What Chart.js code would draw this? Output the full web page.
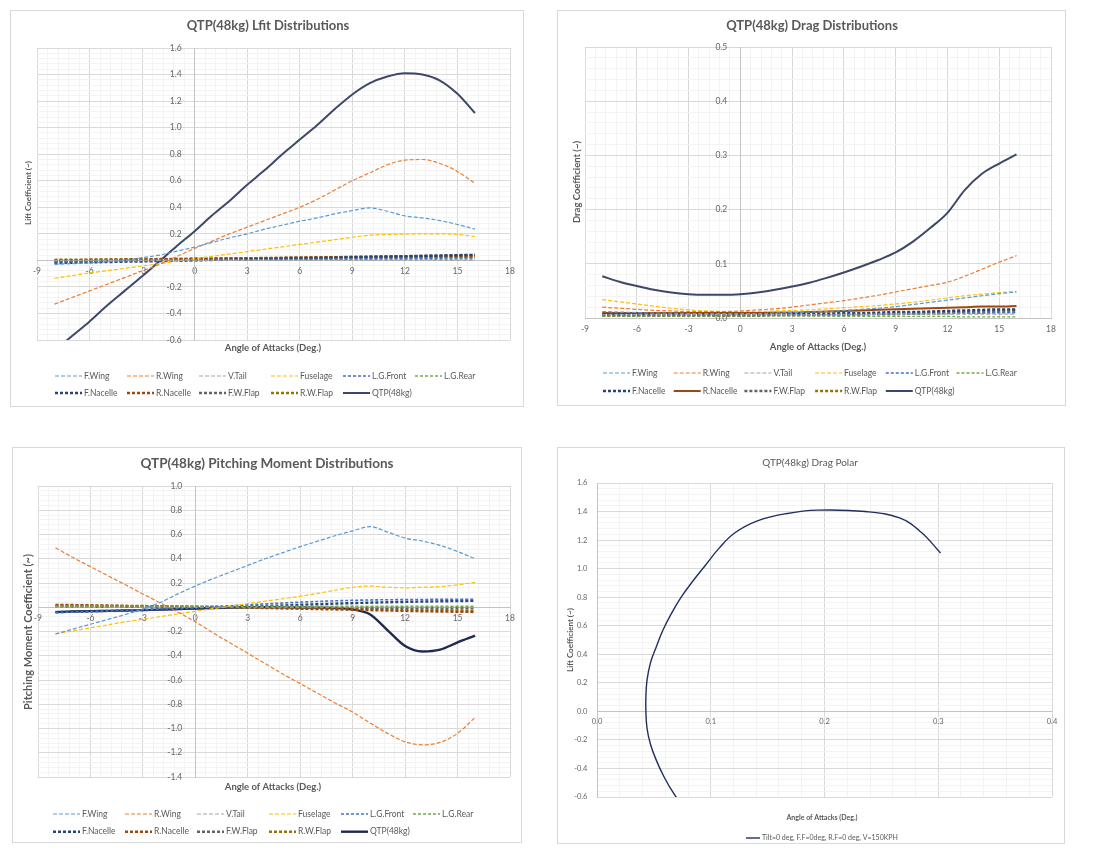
<!DOCTYPE html>
<html>
<head>
<meta charset="utf-8">
<script src="https://cdn.jsdelivr.net/npm/chart.js@4.4.1/dist/chart.umd.min.js"></script>
<style>
  body { margin: 0; background: #fff; width: 1101px; height: 860px; position: relative; overflow: hidden; }
  .panel { position: absolute; border: 1px solid #d9d9d9; box-sizing: border-box; background: #fff; }
  canvas { display: block; }
</style>
</head>
<body>
<div class="panel" style="left:10px;top:10px;width:514px;height:397px"><canvas id="liftChart" width="512" height="395"></canvas></div>
<div class="panel" style="left:557px;top:10px;width:509px;height:396px"><canvas id="dragChart" width="507" height="394"></canvas></div>
<div class="panel" style="left:12px;top:447px;width:510px;height:396px"><canvas id="pitchChart" width="508" height="394"></canvas></div>
<div class="panel" style="left:557px;top:447px;width:508px;height:397px"><canvas id="polarChart" width="506" height="395"></canvas></div>
<script>
// 迎角
const angles = [-8, -7, -6, -5, -4, -3, -2, -1, 0, 1, 2, 3, 4, 5, 6, 7, 8, 9, 10, 11, 12, 13, 14, 15, 16];

const seriesNames = ['F.Wing', 'R.Wing', 'V.Tail', 'Fuselage', 'L.G.Front', 'L.G.Rear',
                     'F.Nacelle', 'R.Nacelle', 'F.W.Flap', 'R.W.Flap', 'QTP(48kg)'];

// 揚力係数
const liftFWing     = [-0.03, -0.025, -0.02, -0.01, 0.00, 0.02, 0.04, 0.07, 0.10, 0.135, 0.17, 0.20, 0.235, 0.265, 0.295, 0.32, 0.35, 0.375, 0.395, 0.37, 0.335, 0.32, 0.30, 0.27, 0.235];
const liftRWing     = [-0.33, -0.28, -0.23, -0.18, -0.13, -0.08, -0.03, 0.03, 0.09, 0.145, 0.20, 0.25, 0.30, 0.35, 0.40, 0.46, 0.53, 0.60, 0.66, 0.72, 0.755, 0.76, 0.73, 0.67, 0.58];
const liftVTail     = [0, 0, 0, 0, 0, 0, 0, 0, 0, 0, 0, 0, 0, 0, 0, 0, 0, 0, 0, 0, 0, 0, 0, 0, 0];
const liftFuselage  = [-0.135, -0.115, -0.095, -0.078, -0.06, -0.042, -0.025, -0.005, 0.012, 0.03, 0.048, 0.066, 0.084, 0.102, 0.12, 0.138, 0.156, 0.174, 0.19, 0.195, 0.198, 0.2, 0.2, 0.195, 0.18];
const liftLGFront   = [-0.010, -0.009, -0.008, -0.007, -0.006, -0.005, -0.003, -0.002, 0.000, 0.001, 0.002, 0.004, 0.005, 0.006, 0.008, 0.009, 0.010, 0.012, 0.013, 0.014, 0.015, 0.016, 0.017, 0.018, 0.019];
const liftLGRear    = [-0.002, -0.002, -0.001, -0.001, 0.000, 0.000, 0.001, 0.001, 0.002, 0.002, 0.003, 0.003, 0.004, 0.004, 0.005, 0.005, 0.006, 0.006, 0.007, 0.007, 0.008, 0.008, 0.008, 0.009, 0.009];
const liftFNacelle  = [-0.020, -0.018, -0.015, -0.013, -0.010, -0.008, -0.005, -0.003, 0.000, 0.003, 0.005, 0.008, 0.010, 0.013, 0.015, 0.018, 0.020, 0.023, 0.025, 0.028, 0.030, 0.033, 0.036, 0.039, 0.042];
const liftRNacelle  = [0.000, 0.001, 0.003, 0.004, 0.006, 0.007, 0.009, 0.010, 0.012, 0.013, 0.015, 0.016, 0.018, 0.019, 0.021, 0.022, 0.024, 0.025, 0.027, 0.028, 0.030, 0.031, 0.032, 0.033, 0.034];
const liftFWFlap    = [-0.008, -0.006, -0.004, -0.002, 0.000, 0.002, 0.004, 0.006, 0.008, 0.010, 0.012, 0.014, 0.016, 0.018, 0.020, 0.022, 0.024, 0.026, 0.028, 0.030, 0.032, 0.034, 0.036, 0.038, 0.040];
const liftRWFlap    = [0.004, 0.005, 0.006, 0.007, 0.008, 0.009, 0.010, 0.011, 0.012, 0.013, 0.014, 0.015, 0.016, 0.017, 0.018, 0.019, 0.020, 0.021, 0.022, 0.023, 0.024, 0.025, 0.026, 0.027, 0.028];
const liftQTP       = [-0.68, -0.57, -0.46, -0.34, -0.23, -0.12, -0.005, 0.11, 0.22, 0.34, 0.45, 0.57, 0.68, 0.80, 0.91, 1.02, 1.14, 1.25, 1.335, 1.385, 1.41, 1.40, 1.355, 1.255, 1.11];

// 抗力係数
const dragFWing     = [0.012, 0.011, 0.010, 0.009, 0.009, 0.008, 0.008, 0.008, 0.008, 0.008, 0.009, 0.010, 0.011, 0.012, 0.014, 0.016, 0.018, 0.021, 0.025, 0.029, 0.033, 0.037, 0.041, 0.045, 0.048];
const dragRWing     = [0.020, 0.018, 0.016, 0.014, 0.013, 0.012, 0.012, 0.012, 0.013, 0.015, 0.017, 0.020, 0.024, 0.028, 0.032, 0.037, 0.042, 0.048, 0.054, 0.060, 0.066, 0.077, 0.090, 0.103, 0.115];
const dragVTail     = [0.006, 0.006, 0.006, 0.006, 0.006, 0.006, 0.006, 0.006, 0.006, 0.006, 0.006, 0.006, 0.006, 0.006, 0.006, 0.006, 0.007, 0.007, 0.007, 0.007, 0.007, 0.007, 0.007, 0.007, 0.007];
const dragFuselage  = [0.034, 0.030, 0.026, 0.022, 0.018, 0.015, 0.013, 0.012, 0.012, 0.012, 0.013, 0.014, 0.015, 0.017, 0.019, 0.021, 0.023, 0.026, 0.029, 0.033, 0.037, 0.041, 0.044, 0.047, 0.049];
const dragLGFront   = [0.005, 0.005, 0.005, 0.005, 0.005, 0.005, 0.005, 0.005, 0.005, 0.005, 0.006, 0.006, 0.006, 0.006, 0.007, 0.007, 0.007, 0.008, 0.008, 0.008, 0.009, 0.009, 0.009, 0.010, 0.010];
const dragLGRear    = [0.004, 0.004, 0.004, 0.004, 0.004, 0.004, 0.004, 0.004, 0.004, 0.004, 0.004, 0.004, 0.004, 0.004, 0.003, 0.003, 0.003, 0.003, 0.003, 0.003, 0.003, 0.002, 0.002, 0.002, 0.002];
const dragFNacelle  = [0.007, 0.007, 0.007, 0.007, 0.007, 0.007, 0.007, 0.007, 0.007, 0.007, 0.007, 0.008, 0.008, 0.008, 0.009, 0.009, 0.010, 0.011, 0.011, 0.012, 0.013, 0.014, 0.015, 0.016, 0.016];
const dragRNacelle  = [0.009, 0.009, 0.009, 0.009, 0.009, 0.009, 0.009, 0.009, 0.009, 0.009, 0.010, 0.010, 0.011, 0.012, 0.013, 0.014, 0.015, 0.016, 0.017, 0.018, 0.019, 0.020, 0.021, 0.021, 0.022];
const dragFWFlap    = [0.005, 0.005, 0.005, 0.005, 0.005, 0.005, 0.005, 0.005, 0.005, 0.005, 0.006, 0.006, 0.006, 0.007, 0.007, 0.008, 0.008, 0.009, 0.010, 0.011, 0.012, 0.012, 0.013, 0.014, 0.015];
const dragRWFlap    = [0.004, 0.004, 0.004, 0.004, 0.004, 0.004, 0.004, 0.004, 0.004, 0.004, 0.005, 0.005, 0.005, 0.005, 0.006, 0.006, 0.007, 0.007, 0.008, 0.008, 0.009, 0.010, 0.010, 0.011, 0.012];
const dragQTP       = [0.077, 0.067, 0.059, 0.052, 0.047, 0.044, 0.043, 0.043, 0.044, 0.047, 0.052, 0.058, 0.065, 0.074, 0.084, 0.095, 0.107, 0.121, 0.141, 0.166, 0.194, 0.236, 0.266, 0.285, 0.302];

// ピッチングモーメント係数
const pitchFWing    = [-0.22, -0.18, -0.14, -0.10, -0.06, -0.015, 0.04, 0.11, 0.175, 0.235, 0.29, 0.345, 0.40, 0.45, 0.50, 0.545, 0.59, 0.63, 0.665, 0.62, 0.57, 0.545, 0.51, 0.46, 0.40];
const pitchRWing    = [0.49, 0.41, 0.335, 0.26, 0.185, 0.11, 0.035, -0.04, -0.12, -0.21, -0.295, -0.38, -0.465, -0.55, -0.63, -0.71, -0.79, -0.865, -0.955, -1.04, -1.11, -1.135, -1.115, -1.04, -0.91];
const pitchVTail    = [0, 0, 0, 0, 0, 0, 0, 0, 0, 0, 0, 0, 0, 0, 0, 0, 0, 0, 0, 0, 0, 0, 0, 0, 0];
const pitchFuselage = [-0.22, -0.195, -0.17, -0.145, -0.12, -0.10, -0.077, -0.055, -0.033, -0.012, 0.01, 0.03, 0.05, 0.07, 0.09, 0.115, 0.14, 0.165, 0.175, 0.165, 0.16, 0.165, 0.17, 0.185, 0.205];
const pitchLGFront  = [-0.045, -0.040, -0.035, -0.030, -0.025, -0.020, -0.015, -0.010, -0.004, 0.004, 0.012, 0.020, 0.028, 0.035, 0.042, 0.048, 0.053, 0.057, 0.060, 0.062, 0.063, 0.064, 0.065, 0.065, 0.065];
const pitchLGRear   = [0.010, 0.010, 0.010, 0.010, 0.009, 0.009, 0.009, 0.009, 0.008, 0.008, 0.008, 0.008, 0.008, 0.008, 0.008, 0.008, 0.008, 0.008, 0.008, 0.008, 0.008, 0.008, 0.008, 0.008, 0.008];
const pitchFNacelle = [-0.040, -0.037, -0.034, -0.030, -0.027, -0.023, -0.019, -0.015, -0.010, -0.005, 0.000, 0.005, 0.010, 0.015, 0.020, 0.025, 0.030, 0.034, 0.038, 0.041, 0.044, 0.047, 0.049, 0.051, 0.053];
const pitchRNacelle = [0.020, 0.018, 0.016, 0.014, 0.012, 0.010, 0.008, 0.006, 0.004, 0.002, 0.000, -0.003, -0.006, -0.009, -0.012, -0.015, -0.018, -0.021, -0.024, -0.027, -0.030, -0.033, -0.035, -0.037, -0.039];
const pitchFWFlap   = [0.005, 0.005, 0.004, 0.004, 0.003, 0.003, 0.002, 0.002, 0.001, 0.001, 0.000, 0.000, -0.001, -0.001, -0.002, -0.002, -0.003, -0.003, -0.004, -0.004, -0.005, -0.005, -0.006, -0.006, -0.007];
const pitchRWFlap   = [0.015, 0.014, 0.012, 0.011, 0.009, 0.008, 0.006, 0.005, 0.003, 0.002, 0.000, -0.002, -0.004, -0.006, -0.008, -0.010, -0.012, -0.014, -0.016, -0.018, -0.020, -0.022, -0.024, -0.026, -0.028];
const pitchQTP      = [-0.04, -0.035, -0.032, -0.03, -0.027, -0.024, -0.02, -0.015, -0.01, -0.006, -0.003, 0.0, 0.0, -0.001, -0.002, -0.003, -0.006, -0.018, -0.06, -0.19, -0.32, -0.365, -0.35, -0.29, -0.235];

// 目盛りラベル
const aoaLabels      = [-9, -6, -3, 0, 3, 6, 9, 12, 15, 18];
const liftYLabels    = [-0.6, -0.4, -0.2, 0.2, 0.4, 0.6, 0.8, 1.0, 1.2, 1.4, 1.6];
const dragYLabels    = [0.0, 0.1, 0.2, 0.3, 0.4, 0.5];
const pitchYLabels   = [-1.4, -1.2, -1.0, -0.8, -0.6, -0.4, -0.2, 0.2, 0.4, 0.6, 0.8, 1.0];
const polarXLabels   = [0.0, 0.1, 0.2, 0.3, 0.4];
const polarYLabels   = [-0.6, -0.4, -0.2, 0.0, 0.2, 0.4, 0.6, 0.8, 1.0, 1.2, 1.4, 1.6];

const FONT = 'Lato';

// 線のスタイル
const baseStyles = [
  { color: '#5b9bd5', width: 1.2, dash: [4, 2] },
  { color: '#ed7d31', width: 1.2, dash: [4, 2] },
  { color: '#a5a5a5', width: 1.2, dash: [4, 2] },
  { color: '#ffc000', width: 1.2, dash: [4, 2] },
  { color: '#4472c4', width: 1.6, dash: [3, 2] },
  { color: '#70ad47', width: 1.4, dash: [3, 2] },
  { color: '#264478', width: 2.4, dash: [3, 2] },
  { color: '#9e480e', width: 2.4, dash: [3, 2] },
  { color: '#636363', width: 2.4, dash: [3, 2] },
  { color: '#997300', width: 2.4, dash: [3, 2] },
  { color: '#3c4868', width: 2, dash: [] }
];

function buildSets(list, styles) {
  return list.map((vals, i) => ({
    label: seriesNames[i],
    data: angles.map((a, k) => ({ x: a, y: vals[k] })),
    borderColor: styles[i].color,
    borderWidth: styles[i].width,
    borderDash: styles[i].dash,
    pointRadius: 0,
    fill: false,
    cubicInterpolationMode: 'monotone'
  }));
}

function near(a, b) { return Math.abs(a - b) < 1e-6; }

// 軸 (y軸ラベルは軸線に接するので後ろに空白を足して離す)
function axis(min, max, step, major, labels, digits, pos, font, gap) {
  return {
    type: 'linear', min: min, max: max, position: pos,
    ticks: {
      stepSize: step, autoSkip: false, maxRotation: 0, minRotation: 0,
      padding: 6, color: '#666', font: { family: FONT, size: font },
      callback: v => {
        const t = labels.find(l => near(l, v));
        return t === undefined ? '' : t.toFixed(digits) + (gap || '');
      }
    },
    grid: {
      drawTicks: false,
      color: c => near(c.tick.value / major, Math.round(c.tick.value / major)) ? '#d9d9d9' : '#f3f3f3'
    },
    border: { color: '#c4c4c4' }
  };
}
const YGAP = '      ';

// タイトル・軸タイトル・凡例
const decor = {
  id: 'decor',
  afterDraw(chart, args, o) {
    const ctx = chart.ctx;
    ctx.save();
    ctx.fillStyle = '#595959';
    ctx.textAlign = 'center';
    ctx.textBaseline = 'middle';
    ctx.font = o.titleFont + ' ' + FONT;
    ctx.fillText(o.title, o.titleX, o.titleY);
    ctx.font = o.xFont + ' ' + FONT;
    ctx.fillText(o.xTitle, o.xTitleX, o.xTitleY);
    ctx.save();
    ctx.font = o.yFont + ' ' + FONT;
    ctx.translate(o.yTitleX, o.yTitleY);
    ctx.rotate(-Math.PI / 2);
    ctx.fillText(o.yTitle, 0, 0);
    ctx.restore();

    ctx.font = o.legFont + ' ' + FONT;
    ctx.textAlign = 'left';
    chart.data.datasets.forEach((ds, i) => {
      const col = i % o.cols, row = Math.floor(i / o.cols);
      const x = o.legX + col * o.legColW, y = o.legY + row * o.legRowH;
      ctx.beginPath();
      ctx.setLineDash(ds.borderDash || []);
      ctx.lineWidth = ds.borderWidth;
      ctx.strokeStyle = ds.borderColor;
      ctx.moveTo(x, y);
      ctx.lineTo(x + o.legLine, y);
      ctx.stroke();
      ctx.setLineDash([]);
      ctx.fillStyle = '#595959';
      ctx.fillText(ds.label, x + o.legLine + 2, y);
    });
    ctx.restore();
  }
};

function makeChart(id, datasets, scales, padding, decorOpts) {
  return new Chart(document.getElementById(id), {
    type: 'line',
    data: { datasets: datasets },
    options: {
      responsive: false,
      animation: false,
      layout: { padding: padding },
      scales: scales,
      plugins: { legend: { display: false }, tooltip: { enabled: false }, decor: decorOpts }
    },
    plugins: [decor]
  });
}

// 揚力
makeChart('liftChart',
  buildSets([liftFWing, liftRWing, liftVTail, liftFuselage, liftLGFront, liftLGRear,
             liftFNacelle, liftRNacelle, liftFWFlap, liftRWFlap, liftQTP], baseStyles),
  {
    x: axis(-9, 18, 0.6, 3, aoaLabels, 0, { y: 0 }, 8.5),
    y: axis(-0.6, 1.6, 0.04, 0.2, liftYLabels, 1, { x: 0 }, 8.5, YGAP)
  },
  { left: 26, right: 13, top: 37, bottom: 66 },
  {
    title: 'QTP(48kg) Lfit Distributions', titleFont: 'bold 13px', titleX: 257, titleY: 15,
    xTitle: 'Angle of Attacks (Deg.)', xFont: 'bold 9.5px', xTitleX: 262, xTitleY: 337,
    yTitle: 'Lift Coefficient (~)', yFont: 'bold 8px', yTitleX: 17, yTitleY: 182,
    legFont: '8.5px', legX: 44, legY: 365, legColW: 72, legRowH: 17, cols: 6, legLine: 27
  });

// 抗力
const dragStyles = baseStyles.map(s => Object.assign({}, s));
dragStyles[7] = { color: '#9e480e', width: 2, dash: [] };
makeChart('dragChart',
  buildSets([dragFWing, dragRWing, dragVTail, dragFuselage, dragLGFront, dragLGRear,
             dragFNacelle, dragRNacelle, dragFWFlap, dragRWFlap, dragQTP], dragStyles),
  {
    x: axis(-9, 18, 0.6, 3, aoaLabels, 0, { y: 0 }, 8.5),
    y: axis(0, 0.5, 0.02, 0.1, dragYLabels, 1, { x: 0 }, 8.5, YGAP)
  },
  { left: 27, right: 14, top: 36, bottom: 87 },
  {
    title: 'QTP(48kg) Drag Distributions', titleFont: 'bold 13px', titleX: 254, titleY: 15,
    xTitle: 'Angle of Attacks (Deg.)', xFont: 'bold 9.5px', xTitleX: 260, xTitleY: 336,
    yTitle: 'Drag Coefficient (~)', yFont: 'bold 9.5px', yTitleX: 19, yTitleY: 171,
    legFont: '8.5px', legX: 45, legY: 362, legColW: 70.7, legRowH: 18, cols: 6, legLine: 27
  });

// ピッチングモーメント
const pitchStyles = baseStyles.map(s => Object.assign({}, s));
pitchStyles[10] = { color: '#1e2b4d', width: 2.4, dash: [] };
makeChart('pitchChart',
  buildSets([pitchFWing, pitchRWing, pitchVTail, pitchFuselage, pitchLGFront, pitchLGRear,
             pitchFNacelle, pitchRNacelle, pitchFWFlap, pitchRWFlap, pitchQTP], pitchStyles),
  {
    x: axis(-9, 18, 0.6, 3, aoaLabels, 0, { y: 0 }, 8.5),
    y: axis(-1.4, 1.0, 0.04, 0.2, pitchYLabels, 1, { x: 0 }, 8.5, YGAP)
  },
  { left: 25, right: 11, top: 38, bottom: 65 },
  {
    title: 'QTP(48kg) Pitching Moment Distributions', titleFont: 'bold 13.5px', titleX: 254, titleY: 16,
    xTitle: 'Angle of Attacks (Deg.)', xFont: 'bold 9.5px', xTitleX: 260, xTitleY: 339,
    yTitle: 'Pitching Moment Coefficient (~)', yFont: 'bold 11px', yTitleX: 15, yTitleY: 184,
    legFont: '8.5px', legX: 40, legY: 366, legColW: 72, legRowH: 17.7, cols: 6, legLine: 27
  });

// 抗力極曲線 (揚力と抗力の組)
const polarPoints = dragQTP.map((cd, i) => ({ x: cd, y: liftQTP[i] }));
makeChart('polarChart',
  [{
    label: 'Tilt=0 deg, F.F=0deg, R.F=0 deg, V=150KPH',
    data: polarPoints,
    borderColor: '#1f3060', borderWidth: 1.4, borderDash: [],
    pointRadius: 0, fill: false, tension: 0.4
  }],
  {
    x: axis(0, 0.4, 0.02, 0.1, polarXLabels, 1, { y: 0 }, 7.5),
    y: axis(-0.6, 1.6, 0.04, 0.2, polarYLabels, 1, { x: 0 }, 7.5, '     ')
  },
  { left: 39, right: 12, top: 35, bottom: 46 },
  {
    title: 'QTP(48kg) Drag Polar', titleFont: '10px', titleX: 252, titleY: 15,
    xTitle: 'Angle of Attacks (Deg.)', xFont: 'bold 7px', xTitleX: 264, xTitleY: 370,
    yTitle: 'Lift Coefficient (~)', yFont: 'bold 8px', yTitleX: 12, yTitleY: 192,
    legFont: '7px', legX: 188, legY: 390, legColW: 0, legRowH: 0, cols: 1, legLine: 14
  });
</script>
</body>
</html>
